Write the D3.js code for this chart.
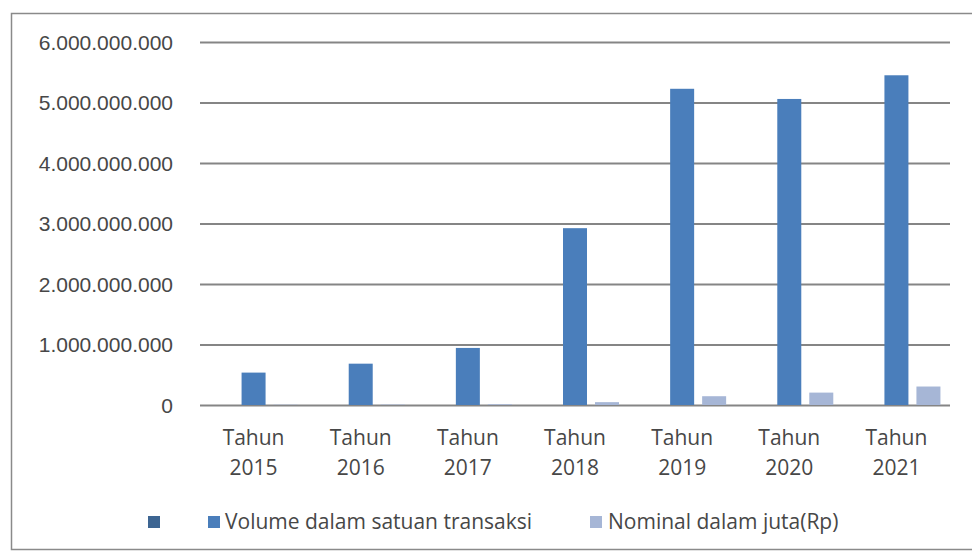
<!DOCTYPE html>
<html>
<head>
<meta charset="utf-8">
<script src="https://cdn.jsdelivr.net/npm/d3@7"></script>
<style>
  html, body { margin: 0; padding: 0; background: #fff; }
  svg { display: block; font-family: "Open Sans", "DejaVu Sans", sans-serif; }
</style>
</head>
<body>
<svg id="chart" width="972" height="553"></svg>
<script>
// Transaction data per year
const categories = ["Tahun 2015", "Tahun 2016", "Tahun 2017", "Tahun 2018", "Tahun 2019", "Tahun 2020", "Tahun 2021"];
const seriesNames = ["", "Volume dalam satuan transaksi", "Nominal dalam juta(Rp)"];
const emptySeries = [0, 0, 0, 0, 0, 0, 0];
const volume = [535579528, 683133352, 943319933, 2922698905, 5226699919, 5058595000, 5450000000];
const nominal = [5283018, 7063689, 12375469, 47198616, 145165468, 204909170, 305435960];
const yTicks = [0, 1000000000, 2000000000, 3000000000, 4000000000, 5000000000, 6000000000];
const colors = ["#3d6592", "#4a7ebb", "#a6b6d6"];

const seriesValues = [emptySeries, volume, nominal];
const textColor = "#474747";

const svg = d3.select("#chart");

// outer frame
svg.append("rect")
  .attr("x", 11.5).attr("y", 13.5)
  .attr("width", 975).attr("height", 536)
  .attr("fill", "none").attr("stroke", "#8a8a8a").attr("stroke-width", 1.5);

const plotLeft = 200, plotRight = 950, plotTop = 42, plotBottom = 405;

const x = d3.scaleBand().domain(categories).range([plotLeft, plotRight]).paddingInner(0).paddingOuter(0);
const y = d3.scaleLinear().domain([0, 6000000000]).range([plotBottom, plotTop]);

const groupWidth = 96;
const xSub = d3.scaleBand().domain(d3.range(seriesNames.length)).range([0, groupWidth]);
const barWidth = 24;
const groupOffset = (x.bandwidth() - groupWidth) / 2;

// thousand separator with dots
const fmt = d3.formatLocale({ decimal: ",", thousands: ".", grouping: [3], currency: ["Rp", ""] }).format(",.0f");

// gridlines + y labels
const yAxis = d3.axisLeft(y)
  .tickValues(yTicks)
  .tickFormat(fmt)
  .tickSize(-(plotRight - plotLeft))
  .tickPadding(27);

const gy = svg.append("g")
  .attr("transform", `translate(${plotLeft},0)`)
  .call(yAxis);
gy.select(".domain").remove();
gy.selectAll(".tick line").attr("stroke", "#858585").attr("stroke-width", 2);
gy.selectAll(".tick text")
  .attr("fill", textColor)
  .style("font-size", "21px")
  .attr("dy", "0.34em");

// bars
seriesValues.forEach((vals, si) => {
  svg.append("g")
    .selectAll("rect")
    .data(vals.map((v, i) => ({ cat: categories[i], v })))
    .join("rect")
    .attr("x", d => x(d.cat) + groupOffset + xSub(si) + (xSub.bandwidth() - barWidth) / 2)
    .attr("width", barWidth)
    .attr("y", d => y(d.v))
    .attr("height", d => y(0) - y(d.v))
    .attr("fill", colors[si]);
});

// x labels, two lines each
const gx = svg.append("g");
categories.forEach(c => {
  const parts = c.split(" ");
  const cx = x(c) + x.bandwidth() / 2;
  const t = gx.append("text")
    .attr("x", cx)
    .attr("text-anchor", "middle")
    .attr("fill", textColor)
    .style("font-size", "21px");
  t.append("tspan").attr("x", cx).attr("y", 445).text(parts[0]);
  t.append("tspan").attr("x", cx).attr("y", 475).text(parts[1]);
});

// legend
const legendItems = [
  { sx: 148, tx: 0 },
  { sx: 208, tx: 225 },
  { sx: 590, tx: 608 }
];
const lg = svg.append("g");
legendItems.forEach((it, i) => {
  lg.append("rect")
    .attr("x", it.sx).attr("y", 516)
    .attr("width", 12).attr("height", 12)
    .attr("fill", colors[i]);
  if (seriesNames[i]) {
    lg.append("text")
      .attr("x", it.tx).attr("y", 529)
      .attr("fill", textColor)
      .style("font-size", "21px")
      .text(seriesNames[i]);
  }
});
</script>
</body>
</html>
